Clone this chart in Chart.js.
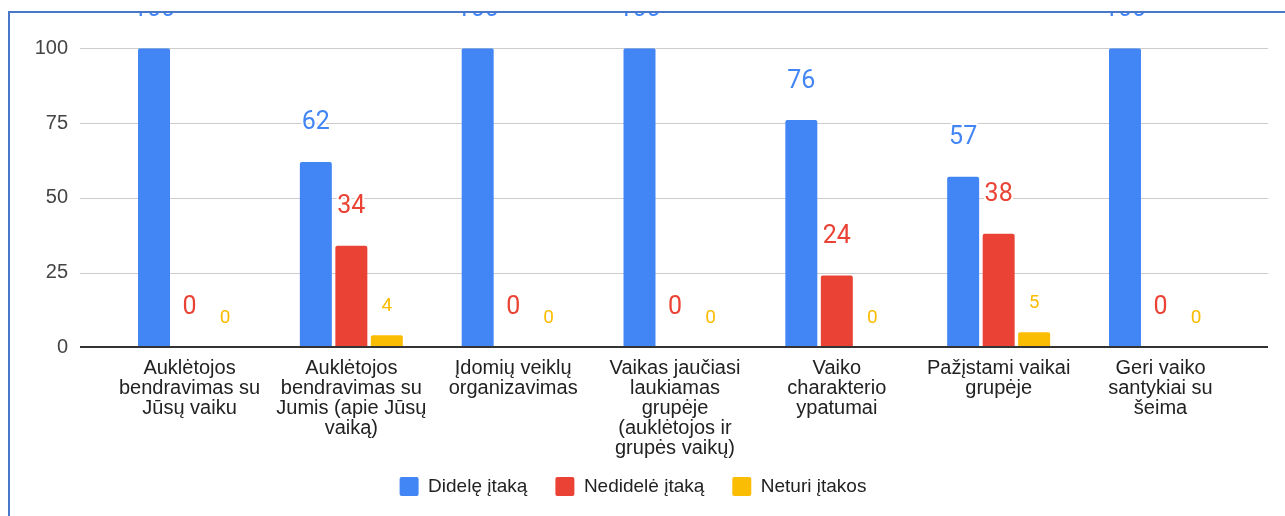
<!DOCTYPE html>
<html><head><meta charset="utf-8">
<script src="https://cdn.jsdelivr.net/npm/chart.js@4.4.1/dist/chart.umd.min.js"></script>
<style>
html,body{margin:0;padding:0;background:#fff;}
#frame{position:absolute;left:8px;top:11px;width:1277px;height:505px;border-left:2px solid #4a78c9;border-top:2px solid #4a78c9;overflow:hidden;box-sizing:border-box;background:#fff;}
#c{position:absolute;left:0;top:0;}
</style></head><body>
<div id="frame"><canvas id="c" width="1275" height="503"></canvas></div>
<script>
const categories = [
  ["Auklėtojos","bendravimas su","Jūsų vaiku"],
  ["Auklėtojos","bendravimas su","Jumis (apie Jūsų","vaiką)"],
  ["Įdomių veiklų","organizavimas"],
  ["Vaikas jaučiasi","laukiamas","grupėje","(auklėtojos ir","grupės vaikų)"],
  ["Vaiko","charakterio","ypatumai"],
  ["Pažįstami vaikai","grupėje"],
  ["Geri vaiko","santykiai su","šeima"]
];
const seriesNames = ["Didelę įtaką","Nedidelė įtaką","Neturi įtakos"];
const dideleItaka = [100, 62, 100, 100, 76, 57, 100];
const nedideleItaka = [0, 34, 0, 0, 24, 38, 0];
const neturiItakos = [0, 4, 0, 0, 0, 5, 0];
const yTicks = [0, 25, 50, 75, 100];

const colors = ["#4285F4","#EA4335","#FBBC04"];
const labelStyles = [
  {font:"25px Roboto", offset:32.5},
  {font:"25px Roboto", offset:33},
  {font:"19px Roboto", offset:24.5}
];
const AXIS_FONT = "'Liberation Sans', Arial, sans-serif";

const extGrid = {
  id:'extGrid',
  beforeDatasetsDraw(chart){
    const {ctx, chartArea, scales:{y}} = chart;
    const x0 = chartArea.left - 28.6, x1 = chartArea.right + 26.6;
    ctx.save();
    ctx.strokeStyle = '#cccccc'; ctx.lineWidth = 1;
    yTicks.forEach(v => {
      if (v === 0) return;
      const py = Math.round(y.getPixelForValue(v)) + 0.5;
      ctx.beginPath(); ctx.moveTo(x0, py); ctx.lineTo(x1, py); ctx.stroke();
    });
    ctx.restore();
  },
  afterDatasetsDraw(chart){
    const {ctx, chartArea, scales:{y}} = chart;
    const x0 = chartArea.left - 28.6, x1 = chartArea.right + 26.6;
    ctx.save();
    ctx.strokeStyle = '#333333'; ctx.lineWidth = 2;
    const py = Math.round(y.getPixelForValue(0));
    ctx.beginPath(); ctx.moveTo(x0, py); ctx.lineTo(x1, py); ctx.stroke();
    ctx.restore();
    chart.data.datasets.forEach((ds, di) => {
      const meta = chart.getDatasetMeta(di);
      const st = labelStyles[di];
      meta.data.forEach((bar, i) => {
        const txt = String(ds.data[i]);
        ctx.save();
        ctx.font = st.font;
        ctx.textAlign = 'center'; ctx.textBaseline = 'alphabetic';
        ctx.lineJoin = 'round';
        ctx.lineWidth = 4; ctx.strokeStyle = '#ffffff';
        const ty = bar.y - st.offset;
        ctx.strokeText(txt, bar.x, ty);
        ctx.fillStyle = colors[di];
        ctx.fillText(txt, bar.x, ty);
        ctx.restore();
      });
    });
  }
};

const seriesData = [dideleItaka, nedideleItaka, neturiItakos];

new Chart(document.getElementById('c'), {
  type: 'bar',
  data: {
    labels: categories,
    datasets: seriesNames.map((n, i) => ({
      label: n,
      data: seriesData[i],
      backgroundColor: colors[i],
      borderWidth: 0,
      borderRadius: {topLeft: 2, topRight: 2, bottomLeft: 0, bottomRight: 0},
      borderSkipped: 'bottom',
      categoryPercentage: 0.658,
      barPercentage: 0.901
    }))
  },
  options: {
    responsive: false,
    devicePixelRatio: 1,
    animation: false,
    layout: {padding: {left: 14.6, right: 43.6, top: 35.3, bottom: 10}},
    plugins: {
      tooltip: {enabled: false},
      legend: {
        position: 'bottom',
        labels: {
          boxWidth: 19, boxHeight: 19, padding: 28,
          useBorderRadius: true, borderRadius: 2,
          color: '#222222',
          font: {family: AXIS_FONT, size: 19}
        }
      }
    },
    scales: {
      x: {
        grid: {display: false, drawTicks: false},
        border: {display: false},
        ticks: {
          autoSkip: false, maxRotation: 0, minRotation: 0,
          padding: 10.7, color: '#222222',
          font: {family: AXIS_FONT, size: 20, lineHeight: 1.0}
        },
        afterFit(scale){
          scale.height = 101.7;
          scale._computeLabelArea = function(){ return undefined; };
        }
      },
      y: {
        min: 0, max: 100,
        grid: {display: false, drawTicks: false},
        border: {display: false},
        ticks: {
          stepSize: 25, padding: 40.6, color: '#444444',
          font: {family: AXIS_FONT, size: 20}
        },
        afterFit(scale){
          scale.width = 84;
          scale.paddingTop = 0;
          scale.paddingBottom = 0;
        }
      }
    }
  },
  plugins: [extGrid]
});
</script>
</body></html>
